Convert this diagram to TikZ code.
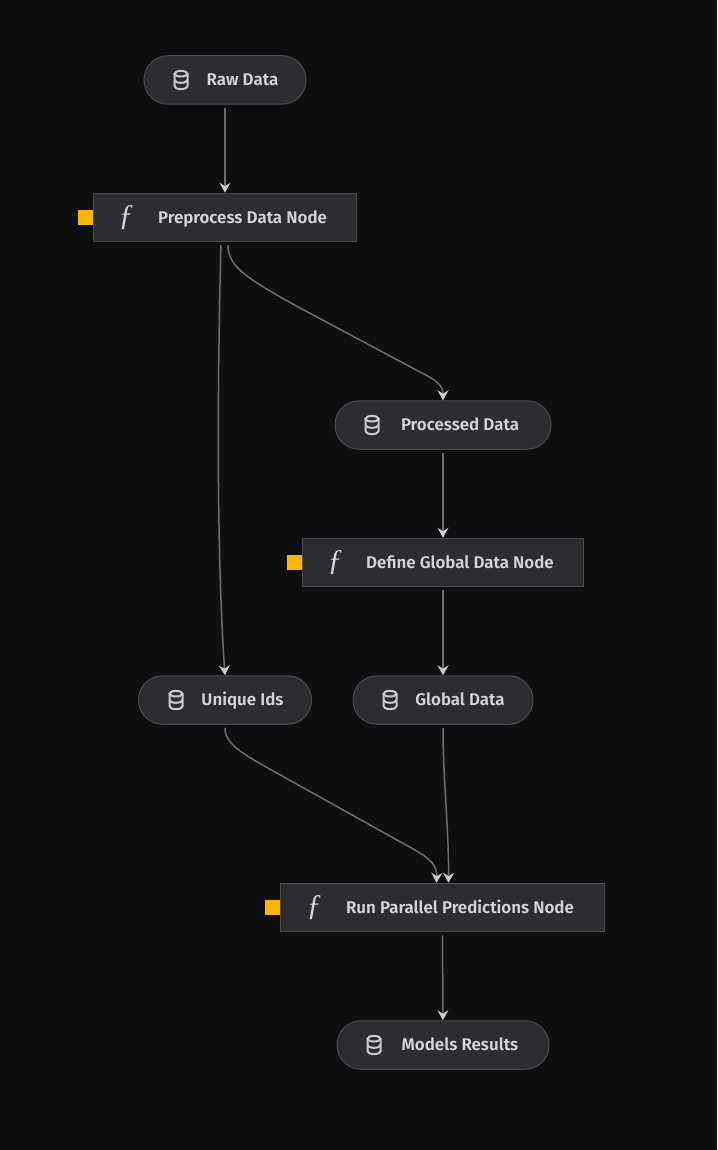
\documentclass[tikz,border=0pt]{standalone}
\usepackage{fontspec}
\setmainfont{Fira Sans}
\usetikzlibrary{arrows.meta,positioning}
\definecolor{bgcol}{HTML}{0E0F11}
\definecolor{nodefill}{HTML}{2C2D30}
\definecolor{nodeline}{HTML}{4A4B4E}
\definecolor{edgecol}{HTML}{6C6D6F}
\definecolor{tipcol}{HTML}{C9CBCD}
\definecolor{textcol}{HTML}{D4D5D7}
\definecolor{amber}{HTML}{FFB400}
\tikzset{
  datanode/.style={draw=nodeline, fill=nodefill, line width=1pt, rounded corners=24pt, minimum height=48.5pt, inner sep=0pt},
  tasknode/.style={draw=nodeline, fill=nodefill, line width=1pt, minimum height=48.5pt, inner sep=0pt},
  nodetext/.style={text=textcol, font=\fontsize{16.9}{18}\selectfont\fontspec{Fira Sans SemiBold}, inner sep=0pt, text height=13.5pt, text depth=2pt},
  functext/.style={text=textcol, font=\fontsize{30}{30}\selectfont\fontspec{Liberation Serif Italic}, inner sep=0pt},
  marker/.style={fill=amber, minimum size=15pt, inner sep=0pt, anchor=east},
  edge/.style={draw=edgecol, line width=1.5pt, shorten <=3pt, -{Stealth[length=10pt, width=11pt, inset=3.5pt, color=tipcol]}},
  pics/dbicon/.style={code={
    \draw[tipcol, line width=2pt] (-6.5,-6.3) -- (-6.5,6.3) arc[x radius=6.5, y radius=2.8, start angle=180, end angle=0] -- (6.5,-6.3);
    \draw[tipcol, line width=2pt] (0,-6.3) ellipse[x radius=6.5, y radius=2.8];
    \draw[tipcol, line width=2pt] (-6.5,0) arc[x radius=6.5, y radius=2.8, start angle=180, end angle=0];
  }}
}
\begin{document}
\begin{tikzpicture}[x=1pt, y=-1pt]
  \fill[bgcol] (0,0) rectangle (717,1150);
  \useasboundingbox (0,0) rectangle (717,1150);

  % Data nodes
  \node[datanode, minimum width=162pt] (raw) at (225,80) {};
  \node[datanode, minimum width=216pt] (processed) at (443,425) {};
  \node[datanode, minimum width=173pt] (unique) at (225,700) {};
  \node[datanode, minimum width=180pt] (global) at (443,700) {};
  \node[datanode, minimum width=212pt] (models) at (443,1045) {};

  % Task nodes
  \node[tasknode, minimum width=263pt] (preprocess) at (225,217.5) {};
  \node[tasknode, minimum width=281pt] (define) at (443,562.5) {};
  \node[tasknode, minimum width=324pt] (run) at (442.5,907.5) {};

  % Markers
  \node[marker, xshift=0.5pt] (premark) at (preprocess.west) {};
  \node[marker, xshift=0.5pt] (defmark) at (define.west) {};
  \node[marker, xshift=0.5pt] (runmark) at (run.west) {};

  % Labels
  \node[nodetext] (rawtext) at (242.5,80) {Raw Data};
  \node[nodetext] (processedtext) at (460,425) {Processed Data};
  \node[nodetext] (uniquetext) at (242.5,700) {Unique Ids};
  \node[nodetext] (globaltext) at (460,700) {Global Data};
  \node[nodetext] (modelstext) at (460,1045) {Models Results};
  \node[nodetext] (preprocesstext) at (242.5,218) {Preprocess Data Node};
  \node[nodetext] (definetext) at (460,563) {Define Global Data Node};
  \node[nodetext] (runtext) at (460,908) {Run Parallel Predictions Node};

  % Icons
  \pic at (181,80) {dbicon};
  \pic at (372,425) {dbicon};
  \pic at (176,700) {dbicon};
  \pic at (390,700) {dbicon};
  \pic at (374,1045) {dbicon};
  \node[functext] (prefunc) at (126,218) {ƒ};
  \node[functext] (deffunc) at (335,563) {ƒ};
  \node[functext] (runfunc) at (314,908) {ƒ};

  % Edges
  \draw[edge] (raw) -- (preprocess);
  \draw[edge] ([xshift=-4pt]preprocess.south) .. controls (217,400) and (217,560) .. (unique.north);
  \draw[edge] ([xshift=3pt]preprocess.south) .. controls (228,268) and (250,280) .. (300,308)
    -- (420,372) .. controls (436,380) and (443,385) .. (processed.north);
  \draw[edge] (processed) -- (define);
  \draw[edge] (define) -- (global);
  \draw[edge] (unique.south) .. controls (225,745) and (245,755) .. (275,772)
    -- (415,850) .. controls (432,860) and (437,866) .. ([xshift=-6pt]run.north);
  \draw[edge] (global.south) .. controls (443,780) and (449,830) .. ([xshift=6pt]run.north);
  \draw[edge] (run) -- (models);
\end{tikzpicture}
\end{document}
